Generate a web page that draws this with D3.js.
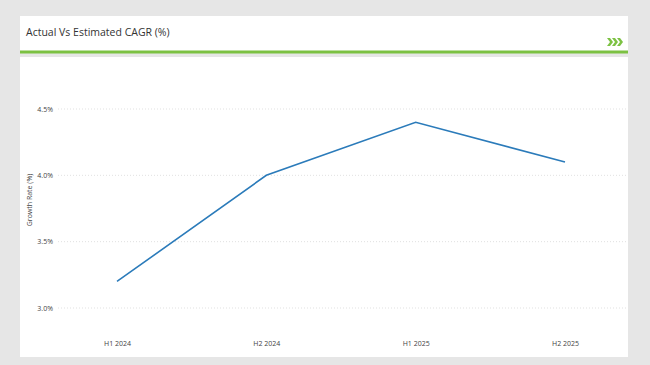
<!DOCTYPE html>
<html>
<head>
<meta charset="utf-8">
<script src="https://cdn.jsdelivr.net/npm/d3@7"></script>
<style>
  html, body { margin: 0; padding: 0; background: #e6e6e6; }
  svg { display: block; }
</style>
</head>
<body>
<svg id="chart" width="650" height="365"></svg>
<script>
const title = "Actual Vs Estimated CAGR (%)";
const yAxisTitle = "Growth Rate (%)";
const categories = ["H1 2024", "H2 2024", "H1 2025", "H2 2025"];
const growthValues = [3.2, 4.0, 4.4, 4.1];
const yTicks = [3.0, 3.5, 4.0, 4.5];

const svg = d3.select("#chart");
const W = 650, H = 365;
const font = "'Open Sans', 'Noto Sans', sans-serif";

svg.append("rect").attr("width", W).attr("height", H).attr("fill", "#e6e6e6");

// header panel
svg.append("rect").attr("x", 20).attr("y", 16).attr("width", 608).attr("height", 35).attr("fill", "#fff");
svg.append("rect").attr("x", 20).attr("y", 50.5).attr("width", 608).attr("height", 3).attr("fill", "#7cc142");
svg.append("text").attr("x", 26).attr("y", 36)
  .attr("font-family", font).attr("font-size", 10.5).attr("fill", "#333")
  .text(title);

// chevrons
const chev = svg.append("g").attr("fill", "#7cc142");
[0, 5, 10].forEach(dx => {
  const x0 = 607 + dx;
  chev.append("path").attr("d", `M${x0},38 L${x0+3},38 L${x0+6},42 L${x0+3},46 L${x0},46 L${x0+3},42 Z`);
});

// chart panel
svg.append("rect").attr("x", 20).attr("y", 57).attr("width", 608).attr("height", 300).attr("fill", "#fff");

const x = d3.scalePoint().domain(categories).range([117, 565]);
const y = d3.scaleLinear().domain([3.0, 4.5]).range([308, 109]);

// gridlines
svg.append("g").selectAll("line").data(yTicks).join("line")
  .attr("x1", 58).attr("x2", 628)
  .attr("y1", d => y(d)).attr("y2", d => y(d))
  .attr("stroke", "#d9d9d9").attr("stroke-width", 0.8).attr("stroke-dasharray", "1,2");

// y axis
const yAxis = d3.axisLeft(y).tickValues(yTicks).tickFormat(d => d.toFixed(1) + "%").tickSize(0).tickPadding(0);
const yg = svg.append("g").attr("transform", "translate(53,0)").call(yAxis);
yg.select(".domain").remove();
yg.selectAll("text").attr("font-family", font).attr("font-size", 7).attr("fill", "#444");

// x axis
const xAxis = d3.axisBottom(x).tickSize(0).tickPadding(0);
const xg = svg.append("g").attr("transform", "translate(0,341)").call(xAxis);
xg.select(".domain").remove();
xg.selectAll("text").attr("font-family", font).attr("font-size", 7).attr("fill", "#444");

// y axis title
svg.append("text")
  .attr("transform", "translate(32,200) rotate(-90)")
  .attr("text-anchor", "middle")
  .attr("font-family", font).attr("font-size", 7).attr("fill", "#444")
  .text(yAxisTitle);

// line
const line = d3.line().x((d, i) => x(categories[i])).y(d => y(d));
svg.append("path").datum(growthValues)
  .attr("d", line)
  .attr("fill", "none").attr("stroke", "#2b7bba").attr("stroke-width", 1.6);
</script>
</body>
</html>
